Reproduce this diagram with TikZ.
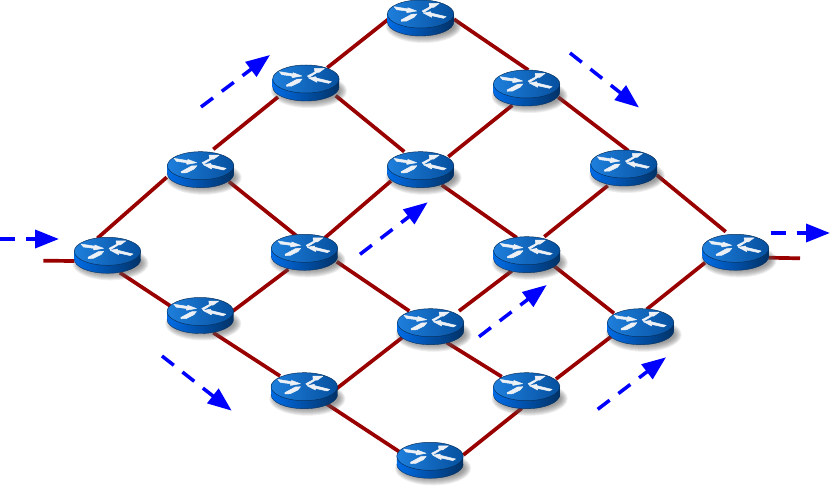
\documentclass[tikz,border=0pt]{standalone}
\usetikzlibrary{arrows.meta}
\definecolor{linkred}{HTML}{990000}
\definecolor{arrowblue}{HTML}{0000FF}
\definecolor{rtopL}{HTML}{1E7FDC}
\definecolor{rtopM}{HTML}{0A62C6}
\definecolor{rtopR}{HTML}{06509F}
\definecolor{rsideL}{HTML}{006CE6}
\definecolor{rsideM}{HTML}{0055B4}
\definecolor{rsideR}{HTML}{023266}
\definecolor{redge}{HTML}{07315F}
\definecolor{glyphc}{HTML}{EDF1F5}
\tikzset{
  linkline/.style={draw=linkred,line width=3.7pt},
  flowarrow/.style={draw=arrowblue,line width=3.5pt,dash pattern=on 15pt off 11pt,
    -{Triangle[length=24pt,width=18pt,fill=arrowblue,color=arrowblue]}},
  routerhub/.style={shape=coordinate},
  glyph/.style={fill=glyphc,draw=glyphc,line width=0.5pt,line join=round},
  pics/routershadow/.style={code={
    \foreach \k in {1,...,8}{
      \fill[black!65,opacity=0.1] (3,8) ellipse ({30+\k} and {9+\k});
    }
  }},
  pics/routerpic/.style={code={
    \path[left color=rsideL,middle color=rsideM,right color=rsideR]
      (-33.2,-4) -- (-33.2,4)
      .. controls (-33.2,11.7) and (-18.3,18) .. (0,18)
      .. controls (18.3,18) and (33.2,11.7) .. (33.2,4)
      -- (33.2,-4) -- cycle;
    \draw[redge,line width=0.4pt]
      (-33.2,4)
      .. controls (-33.2,11.7) and (-18.3,18) .. (0,18)
      .. controls (18.3,18) and (33.2,11.7) .. (33.2,4);
    \path[draw=redge,line width=0.5pt,left color=rtopL,middle color=rtopM,right color=rtopR]
      (0,-4) ellipse (33.2 and 14);
    \begin{scope}[shift={(0,-4)}]
      \fill[glyph] (-26.5,-7.3) -- (-12,-5) -- (-12.8,-6.3) -- (-4,-3) -- (-13.8,-1.3) -- (-14,-3) -- (-24,-4.3) -- cycle;
      \fill[glyph] (1.5,-3) -- (9,-7) -- (8.5,-10.5) -- (18.5,-10.5) -- (13,-6.5) -- (11,-6.5) -- (3,-1.5) -- cycle;
      \fill[glyph] (-19.5,6) -- (-9,0.3) -- (-3.8,0) -- (-6.5,3.3) -- (-14,7) -- (-19.2,7.3) -- cycle;
      \fill[glyph] (2.8,-1) -- (10,-2.3) -- (10.5,-1) -- (25.5,2.7) -- (22.8,4.3) -- (11,1.7) -- (11,3.3) -- cycle;
    \end{scope}
  }}
}
\begin{document}
\begin{tikzpicture}[x=1pt,y=-1pt]
\useasboundingbox (0,0) rectangle (830,489);
\fill[white] (0,0) rectangle (830,489);
\foreach \n/\x/\y in {a/107.5/255.3,b/200.6/169.7,c/305.9/83,d/420.6/18,e/526.6/88,f/623.9/168,g/735.6/252.3,
  h/200.3/315.5,i/304.5/252.3,j/420.6/169.7,k/526.8/254.7,l/430.6/326.7,m/640.6/326.7,n/304.3/390.7,o/526.6/390.7,p/430/460.3}{
  \node[routerhub] (\n) at (\x,\y) {};
}
\coordinate (inend) at (43.3,260.7);
\coordinate (outend) at (800,258.3);
\foreach \s/\sx/\sy/\t/\tx/\ty in {
  a/-10.2/-17/b/-33.9/7.6,
  b/28.4/12/i/-7.8/-16.3,
  a/12.5/17.4/h/-30.3/-9.8,
  h/32.7/-4.5/i/-16.2/17,
  b/12.7/-20.4/c/-27.9/14,
  c/21.4/-15.3/d/-32.3/1.3,
  d/33.4/1.3/e/1.7/-18,
  c/29.8/12.7/j/-16.3/-18,
  j/27.7/-13/e/-14.3/17.3,
  e/31.7/9.3/f/4.4/-17.3,
  f/-16.2/17.7/k/17.5/-18,
  f/32.8/7/g/-9.9/-20.6,
  k/27.2/11.3/m/-26.6/-13.4,
  g/-30.6/10.4/m/6.1/-17.4,
  g/32.7/5.4/outend/0/0,
  a/-33.2/5.7/inend/0/0,
  i/20.5/-14.6/j/-29.6/11.3,
  j/21.1/15.3/k/-10.1/-17,
  i/32.2/9.4/l/-21.3/-15.7,
  l/28.4/-15.7/k/-15.1/16.3,
  l/-27.3/10/n/31.4/-1.4,
  l/16.1/15.8/o/-24.9/-14,
  h/13/17.2/n/-24.3/-14.7,
  n/22.4/13.3/p/-30.7/-8.6,
  o/29.4/-11.7/m/-29.6/10,
  p/33.3/-5.3/o/-4.9/17.6}{
  \draw[linkline] ([shift={(\sx,\sy)}]\s) -- ([shift={(\tx,\ty)}]\t);
}
\foreach \n in {a,b,c,d,e,f,g,h,i,j,k,l,m,n,o,p}{
  \pic at (\n) {routershadow};
}
\foreach \n in {a,b,c,d,e,f,g,h,i,j,k,l,m,n,o,p}{
  \pic at (\n) {routerpic};
}
\foreach \xa/\ya/\xb/\yb in {0/239/59/239,201/107/270/55,570/53/639/107.5,360/254.3/427.7/202.3,
  770.5/233/830/233,479/336.7/546.7/285,597.7/409.3/666/357.3,162/356/231.7/410.7}{
  \coordinate (fs) at (\xa,\ya);
  \coordinate (fe) at (\xb,\yb);
  \draw[flowarrow] (fs) -- (fe);
}
\end{tikzpicture}
\end{document}
